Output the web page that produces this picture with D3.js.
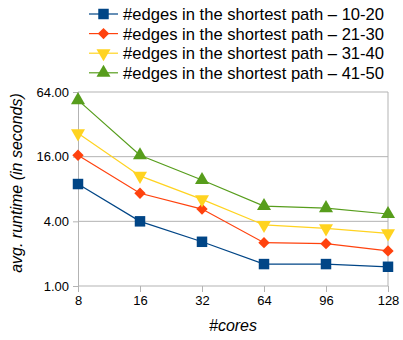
<!DOCTYPE html>
<html>
<head>
<meta charset="utf-8">
<script src="https://cdn.jsdelivr.net/npm/d3@7"></script>
<style>
  body { margin: 0; background: #fff; }
  text { font-family: "Liberation Sans", Arial, sans-serif; fill: #000; }
</style>
</head>
<body>
<svg id="chart" width="403" height="340"></svg>
<script>
var cores = ['8', '16', '32', '64', '96', '128'];
var yTicks = [1, 4, 16, 64];

var edges1020 = [8.9, 4.0, 2.58, 1.6, 1.6, 1.51];
var edges2130 = [16.5, 7.3, 5.2, 2.53, 2.48, 2.12];
var edges3140 = [26.4, 10.6, 6.4, 3.7, 3.44, 3.09];
var edges4150 = [53.8, 16.5, 9.7, 5.55, 5.3, 4.68];

var series = [
  { name: '#edges in the shortest path \u2013 10-20', values: edges1020, color: '#004586', shape: 'square' },
  { name: '#edges in the shortest path \u2013 21-30', values: edges2130, color: '#ff420e', shape: 'diamond' },
  { name: '#edges in the shortest path \u2013 31-40', values: edges3140, color: '#ffd320', shape: 'down' },
  { name: '#edges in the shortest path \u2013 41-50', values: edges4150, color: '#579d1c', shape: 'up' }
];

var svg = d3.select('#chart');
var plotLeft = 78, plotRight = 388, plotTop = 92, plotBottom = 286;

var x = d3.scalePoint().domain(cores).range([plotLeft, plotRight]);
var y = d3.scaleLog().base(2).domain([1, 64]).range([plotBottom, plotTop]);

// gridlines
svg.append('g').selectAll('line')
  .data(yTicks.slice(1))
  .enter().append('line')
  .attr('x1', plotLeft).attr('x2', plotRight)
  .attr('y1', function (d) { return y(d); })
  .attr('y2', function (d) { return y(d); })
  .attr('stroke', '#b3b3b3');

// right border
svg.append('line')
  .attr('x1', plotRight).attr('x2', plotRight)
  .attr('y1', plotTop).attr('y2', plotBottom)
  .attr('stroke', '#b3b3b3');

var yAxis = d3.axisLeft(y).tickValues(yTicks)
  .tickFormat(d3.format('.2f')).tickSizeOuter(0).tickSize(5).tickPadding(4);
var gy = svg.append('g').attr('transform', 'translate(' + plotLeft + ',0)').call(yAxis);

var xAxis = d3.axisBottom(x).tickSizeOuter(0).tickSize(6).tickPadding(4);
var gx = svg.append('g').attr('transform', 'translate(0,' + plotBottom + ')').call(xAxis);

[gx, gy].forEach(function (g) {
  g.selectAll('.domain, line').attr('stroke', '#b3b3b3');
  g.selectAll('text').style('font-size', '13px').style('font-family', '"Liberation Sans", Arial, sans-serif');
});
gx.select('.domain').attr('d', 'M' + plotLeft + ',0H' + plotRight);

// axis titles
svg.append('text')
  .attr('x', (plotLeft + plotRight) / 2).attr('y', 331)
  .attr('text-anchor', 'middle')
  .style('font-size', '16px').style('font-style', 'italic')
  .text('#cores');

svg.append('text')
  .attr('transform', 'translate(22,183) rotate(-90)')
  .attr('text-anchor', 'middle')
  .style('font-size', '16px').style('font-style', 'italic')
  .text('avg. runtime (in seconds)');

var symbols = {
  square: d3.symbol().type(d3.symbolSquare).size(110),
  diamond: d3.symbol().type(d3.symbolSquare).size(64),
  down: d3.symbol().type(d3.symbolTriangle).size(85),
  up: d3.symbol().type(d3.symbolTriangle).size(85)
};

function drawMarker(g, s, cx, cy) {
  var rot = s.shape === 'down' ? ' rotate(180)' : (s.shape === 'diamond' ? ' rotate(45)' : '');
  g.append('path')
    .attr('d', symbols[s.shape]())
    .attr('fill', s.color)
    .attr('transform', 'translate(' + cx + ',' + cy + ')' + rot);
}

var line = d3.line()
  .x(function (d, i) { return x(cores[i]); })
  .y(function (d) { return y(d); });

series.forEach(function (s) {
  var g = svg.append('g');
  g.append('path')
    .attr('d', line(s.values))
    .attr('fill', 'none')
    .attr('stroke', s.color)
    .attr('stroke-width', 1.2);
  s.values.forEach(function (v, i) {
    drawMarker(g, s, x(cores[i]), y(v));
  });
});

// legend
var legend = svg.append('g');
series.forEach(function (s, i) {
  var ly = 14 + i * 19.6;
  legend.append('line')
    .attr('x1', 89).attr('x2', 118)
    .attr('y1', ly).attr('y2', ly)
    .attr('stroke', s.color).attr('stroke-width', 1.2);
  drawMarker(legend, s, 103.5, ly);
  legend.append('text')
    .attr('x', 123).attr('y', ly + 6)
    .style('font-size', '16.6px')
    .text(s.name);
});
</script>
</body>
</html>
